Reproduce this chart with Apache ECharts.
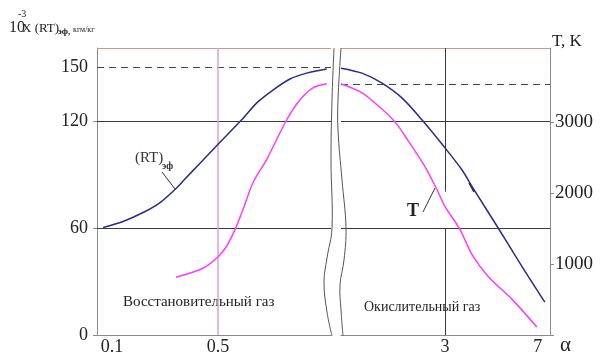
<!DOCTYPE html>
<html>
<head>
<meta charset="utf-8">
<script src="https://cdn.jsdelivr.net/npm/echarts@6/dist/echarts.min.js"></script>
<style>
html,body{margin:0;padding:0;background:#fff;}
#c{width:604px;height:356px;}
</style>
</head>
<body>
<div id="c"></div>
<script>
// ---- data ----
// reducing gas side (alpha < 1)
const rtAlphaLeft = [0.066, 0.141, 0.217, 0.281, 0.337, 0.373, 0.430, 0.498, 0.589, 0.646, 0.707, 0.771, 0.834, 0.910];
const rtLeft      = [60.3, 63.7, 68.7, 74.3, 81.6, 87.2, 96.1, 106.7, 120.7, 130.2, 137.4, 143.6, 146.9, 149.2];
const tAlphaLeft  = [0.341, 0.443, 0.498, 0.532, 0.564, 0.594, 0.632, 0.683, 0.759, 0.809, 0.858, 0.910];
const tLeft       = [814, 940, 1094, 1249, 1487, 1768, 2147, 2469, 3030, 3311, 3479, 3536];
// oxidizing gas side (alpha > 1)
const rtAlphaRight = [1.163, 1.408, 1.690, 2.027, 2.432, 3.0, 3.502, 3.872, 4.862, 6.051, 7.462];
const rtRight      = [149.7, 146.9, 141.3, 133.0, 120.7, 105.0, 92.7, 82.5, 60.3, 38.5, 18.4];
const tAlphaRight  = [1.163, 1.408, 1.629, 1.902, 2.141, 2.5, 2.789, 3.0, 3.439, 3.837, 4.439, 5.523, 6.937];
const tRight       = [3536, 3409, 3230, 3000, 2740, 2371, 2048, 1810, 1487, 1136, 828, 505, 112];
// ticks
const rtTicks = [0, 60, 120, 150];
const tTicks = [1000, 2000, 3000];
const alphaTicksLeft = [0.1, 0.5];
const alphaTicksRight = [3, 7];
const rtMax = 161, tMax = 4040;
const alphaLeftMin = 0.043, alphaLeftMax = 0.926;
const alphaRightMin = 1.163, alphaRightMax = 7.82;
const tPeak = 3536;

const SERIF = 'Liberation Serif';
const BLUE = '#2b2b8f', MAG = '#ff3cff', GRID = '#3a3a3a', AX = '#8a8a8a', RED = '#d99090', PINK = '#d9a2d9';

const zip = (a, b) => a.map((v, i) => [v, b[i]]);
const ml = (data) => ({silent: true, symbol: 'none', label: {show: false}, lineStyle: {type: 'solid', color: GRID, width: 1}, data: data});
const hl = (y, color, type) => ({yAxis: y, lineStyle: {color: color, width: 1, type: type || 'solid'}});
const txt = (left, top, text, size, weight, color) => ({type: 'text', left: left, top: top, silent: true,
  style: {text: text, font: (weight === 'bold' ? 'bold ' : '') + size + 'px "Liberation Serif"', fill: color || '#222'}});

const chart = echarts.init(document.getElementById('c'), null, {renderer: 'canvas'});
chart.setOption({
  animation: false,
  backgroundColor: '#fff',
  textStyle: {fontFamily: SERIF},
  grid: [
    {left: 97, top: 48, width: 234, height: 288},
    {left: 341, top: 48, width: 209, height: 288}
  ],
  xAxis: [
    {gridIndex: 0, type: 'value', min: alphaLeftMin, max: alphaLeftMax,
     axisLine: {lineStyle: {color: AX}}, axisTick: {show: false}, splitLine: {show: false},
     axisLabel: {customValues: alphaTicksLeft, formatter: v => String(v), color: '#222', fontSize: 18, fontFamily: SERIF, margin: 3}},
    {gridIndex: 1, type: 'log', logBase: 10, min: alphaRightMin, max: alphaRightMax,
     axisLine: {lineStyle: {color: AX}}, axisTick: {show: false}, splitLine: {show: false}, minorTick: {show: false},
     axisLabel: {customValues: alphaTicksRight, formatter: v => String(Math.round(v)), color: '#222', fontSize: 18, fontFamily: SERIF, margin: 3},
     name: 'α', nameLocation: 'end', nameGap: 10,
     nameTextStyle: {fontSize: 21, fontFamily: SERIF, color: '#222', verticalAlign: 'top', padding: [0, 0, 0, 0]}}
  ],
  yAxis: [
    {gridIndex: 0, type: 'value', min: 0, max: rtMax, position: 'left',
     axisLine: {show: true, lineStyle: {color: AX}},
     axisTick: {show: true, customValues: [0, 60, 120], length: 4, lineStyle: {color: AX}},
     splitLine: {show: false},
     axisLabel: {customValues: rtTicks, formatter: v => String(v), color: '#222', fontSize: 18, fontFamily: SERIF, margin: 9}},
    {gridIndex: 0, type: 'value', min: 0, max: tMax, position: 'right', show: false, splitLine: {show: false}},
    {gridIndex: 1, type: 'value', min: 0, max: rtMax, position: 'left', show: false, splitLine: {show: false}},
    {gridIndex: 1, type: 'value', min: 0, max: tMax, position: 'right',
     axisLine: {show: true, lineStyle: {color: AX}},
     axisTick: {show: true, customValues: [0].concat(tTicks), length: 4, lineStyle: {color: AX}},
     splitLine: {show: false},
     axisLabel: {customValues: tTicks, formatter: v => String(v), color: '#222', fontSize: 19, fontFamily: SERIF, margin: 5},
     name: 'T, K', nameLocation: 'end', nameGap: 6,
     nameTextStyle: {fontSize: 17, fontFamily: SERIF, color: '#222', align: 'left', verticalAlign: 'middle', padding: [0, 0, 0, 2]}}
  ],
  series: [
    {name: '(RT)эф', type: 'line', xAxisIndex: 0, yAxisIndex: 0, data: zip(rtAlphaLeft, rtLeft),
     smooth: 0.3, showSymbol: false, lineStyle: {color: BLUE, width: 1.5}, z: 5,
     markLine: ml([
       hl(60, GRID), hl(120, GRID), hl(150, '#444', [7, 5]), hl(rtMax, RED),
       {xAxis: 0.5, lineStyle: {color: PINK, width: 1.5, type: 'solid'}}
     ])},
    {name: 'T', type: 'line', xAxisIndex: 0, yAxisIndex: 1, data: zip(tAlphaLeft, tLeft),
     smooth: 0.3, showSymbol: false, lineStyle: {color: MAG, width: 1.5}, z: 5},
    {name: '(RT)эф', type: 'line', xAxisIndex: 1, yAxisIndex: 2, data: zip(rtAlphaRight, rtRight),
     smooth: 0.3, showSymbol: false, lineStyle: {color: BLUE, width: 1.5}, z: 5,
     markLine: ml([
       hl(60, GRID), hl(120, GRID), hl(rtMax, RED),
       [{coord: [3, rtMax]}, {coord: [3, 80.4]}],
       [{coord: [3, 60]}, {coord: [3, 0]}]
     ])},
    {name: 'T', type: 'line', xAxisIndex: 1, yAxisIndex: 3, data: zip(tAlphaRight, tRight),
     smooth: 0.3, showSymbol: false, lineStyle: {color: MAG, width: 1.5}, z: 5,
     markLine: ml([hl(tPeak, '#444', [7, 5])])}
  ],
  graphic: [
    // break marks (wavy lines)
    {type: 'polyline', silent: true, z: 10, shape: {smooth: 0.4, points: [[334, 48], [332, 100], [331, 160], [332, 228], [327, 258], [324, 282], [327, 312], [332, 336]]},
     style: {stroke: '#555', fill: null, lineWidth: 1}},
    {type: 'polyline', silent: true, z: 10, shape: {smooth: 0.4, points: [[341, 48], [338, 100], [338, 130], [342, 180], [346, 228], [344, 260], [340, 285], [341, 310], [343, 336]]},
     style: {stroke: '#555', fill: null, lineWidth: 1}},
    // left axis title
    txt(9, 20, '10', 16),
    txt(18, 9, '-3', 10),
    txt(22, 22, 'X (RT)', 13),
    txt(58, 27, 'эф,', 9, 'bold'),
    txt(73, 26, 'кгм/кг', 8),
    // curve labels
    txt(135, 151, '(RT)', 15, 'normal', '#333'),
    txt(162, 161, 'эф', 10, 'bold', '#333'),
    {type: 'line', silent: true, shape: {x1: 162, y1: 172, x2: 175, y2: 189}, style: {stroke: '#333', lineWidth: 1}},
    txt(407, 202, 'T', 18, 'bold'),
    {type: 'line', silent: true, shape: {x1: 423, y1: 212, x2: 435, y2: 188}, style: {stroke: '#333', lineWidth: 1}},
    {type: 'line', silent: true, shape: {x1: 469, y1: 183, x2: 474, y2: 192}, style: {stroke: '#222', lineWidth: 1.5}},
    // region labels
    txt(123, 295, 'Восстановительный газ', 15),
    txt(364, 300, 'Окислительный газ', 14)
  ]
});
</script>
</body>
</html>
